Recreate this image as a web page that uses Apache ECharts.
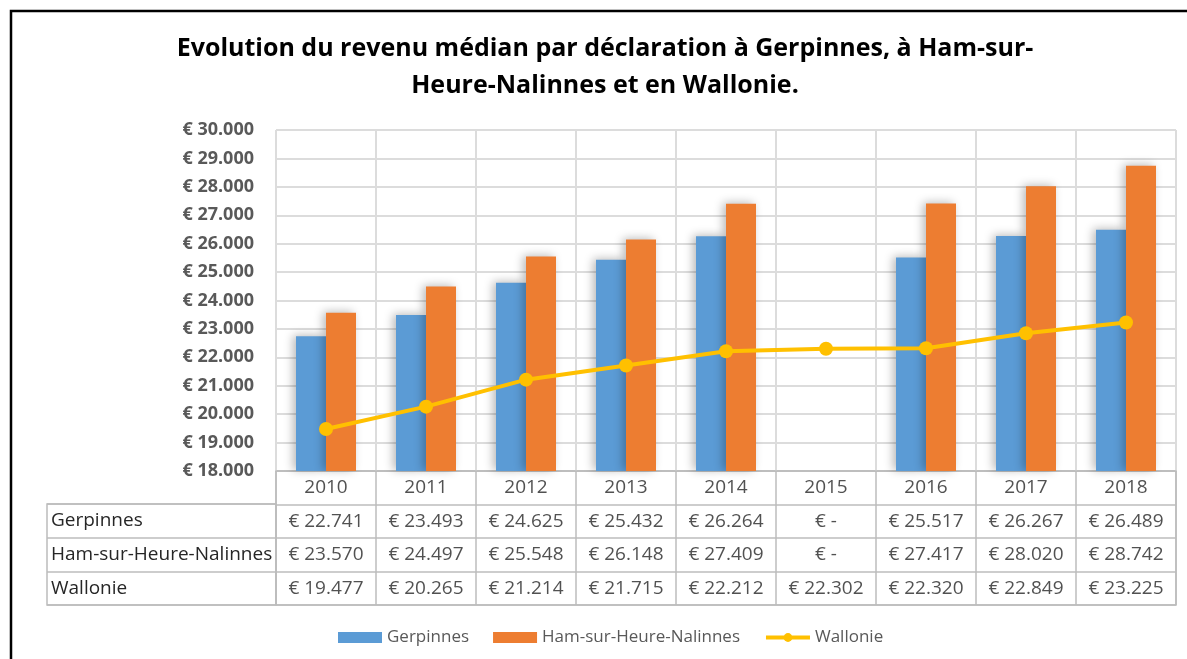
<!DOCTYPE html>
<html>
<head>
<meta charset="utf-8">
<script src="https://cdn.jsdelivr.net/npm/echarts@6/dist/echarts.min.js"></script>
<style>
  html, body { margin: 0; padding: 0; background: #fff; }
  #main { width: 1187px; height: 659px; }
</style>
</head>
<body>
<div id="main"></div>
<script>
// data
const years = ['2010', '2011', '2012', '2013', '2014', '2015', '2016', '2017', '2018'];
const gerpinnes = [22741, 23493, 24625, 25432, 26264, null, 25517, 26267, 26489];
const hamSurHeure = [23570, 24497, 25548, 26148, 27409, null, 27417, 28020, 28742];
const wallonie = [19477, 20265, 21214, 21715, 22212, 22302, 22320, 22849, 23225];
const rowNames = ['Gerpinnes', 'Ham-sur-Heure-Nalinnes', 'Wallonie'];
const yMin = 18000, yMax = 30000, yStep = 1000;

const font = 'Open Sans';

function euro(v) {
  if (v == null) return '€ -';
  return '€ ' + String(v).replace(/\B(?=(\d{3})+(?!\d))/g, '.');
}

// cells of the data table: header row with the years + one row per series
const rows = [gerpinnes, hamSurHeure, wallonie];
let cells = [];
years.forEach((y) => {
  cells.push({ value: [y, 'header'], name: y });
});
rows.forEach((serie, r) => {
  serie.forEach((v, i) => {
    cells.push({ value: [years[i], rowNames[r]], name: euro(v) });
  });
});

const gridLine = { show: true, lineStyle: { color: '#dcdcdc', width: 2 } };
const tableLine = { show: true, lineStyle: { color: '#bcbcbc', width: 1.5 } };
const barShadow = {
  shadowBlur: 10,
  shadowColor: 'rgba(0,0,0,0.28)',
  shadowOffsetX: -3,
  shadowOffsetY: -1
};

let myChart = echarts.init(document.getElementById('main'));

let options = {
  animation: false,
  textStyle: { fontFamily: font },
  title: {
    text: 'Evolution du revenu médian par déclaration à Gerpinnes, à Ham-sur-\nHeure-Nalinnes et en Wallonie.',
    left: 605,
    textAlign: 'center',
    top: 30,
    padding: 0,
    textStyle: { fontFamily: font, fontSize: 25, fontWeight: 'bold', color: '#000', lineHeight: 37 }
  },
  graphic: [{
    type: 'rect',
    shape: { x: 11, y: 11, width: 1400, height: 1000 },
    style: { fill: 'none', stroke: '#000', lineWidth: 2.5 },
    silent: true
  }],
  legend: {
    left: 333,
    top: 624,
    itemGap: 24,
    itemWidth: 44,
    itemHeight: 11,
    textStyle: { fontFamily: font, fontSize: 17, color: '#595959' },
    data: [
      { name: 'Gerpinnes', icon: 'rect' },
      { name: 'Ham-sur-Heure-Nalinnes', icon: 'rect' },
      { name: 'Wallonie', lineStyle: { width: 4 } }
    ]
  },
  grid: [
    { left: 276, right: 11, top: 130, bottom: 188 },
    { left: 276, right: 11, top: 471, height: 134, show: true, borderColor: '#bcbcbc', borderWidth: 1.5 },
    { left: 47, top: 504, width: 229, height: 101, show: true, borderColor: '#bcbcbc', borderWidth: 1.5 }
  ],
  xAxis: [
    {
      type: 'category', data: years, gridIndex: 0,
      axisLine: { lineStyle: { color: '#bcbcbc', width: 1.5 } },
      axisTick: { show: false },
      axisLabel: { show: false },
      splitLine: Object.assign({ interval: 0 }, gridLine)
    },
    {
      type: 'category', data: years, gridIndex: 1,
      axisLine: { show: false }, axisTick: { show: false }, axisLabel: { show: false },
      splitLine: Object.assign({ interval: 0 }, tableLine)
    },
    { type: 'value', gridIndex: 2, show: false }
  ],
  yAxis: [
    {
      type: 'value', gridIndex: 0, min: yMin, max: yMax, interval: yStep,
      axisLine: { show: false }, axisTick: { show: false },
      axisLabel: {
        margin: 22, fontFamily: font, fontSize: 18, fontWeight: 'bold', color: '#595959',
        formatter: (v) => euro(v)
      },
      splitLine: gridLine
    },
    {
      type: 'category', gridIndex: 1, inverse: true,
      data: ['header'].concat(rowNames),
      axisLine: { show: false }, axisTick: { show: false }, axisLabel: { show: false },
      splitLine: Object.assign({ interval: 0 }, tableLine)
    },
    {
      type: 'category', gridIndex: 2, inverse: true, data: rowNames,
      axisLine: { show: false }, axisTick: { show: false },
      axisLabel: { inside: true, margin: 4, fontFamily: font, fontSize: 19, color: '#262626' },
      splitLine: Object.assign({ interval: 0 }, tableLine)
    }
  ],
  series: [
    {
      name: 'Gerpinnes', type: 'bar', data: gerpinnes,
      xAxisIndex: 0, yAxisIndex: 0,
      barGap: '0%', barCategoryGap: '40%',
      itemStyle: Object.assign({ color: '#5B9BD5' }, barShadow)
    },
    {
      name: 'Ham-sur-Heure-Nalinnes', type: 'bar', data: hamSurHeure,
      xAxisIndex: 0, yAxisIndex: 0,
      barGap: '0%', barCategoryGap: '40%',
      itemStyle: Object.assign({ color: '#ED7D31' }, barShadow)
    },
    {
      name: 'Wallonie', type: 'line', data: wallonie,
      xAxisIndex: 0, yAxisIndex: 0,
      symbol: 'circle', symbolSize: 14, z: 5,
      lineStyle: { color: '#FFC000', width: 4 },
      itemStyle: { color: '#FFC000' }
    },
    {
      type: 'scatter', data: cells, xAxisIndex: 1, yAxisIndex: 1,
      symbol: 'rect', symbolSize: 1, silent: true,
      itemStyle: { color: 'rgba(0,0,0,0)' },
      label: {
        show: true, position: 'inside', formatter: '{b}',
        fontFamily: font, fontSize: 19, color: '#262626'
      }
    }
  ]
};

myChart.setOption(options);
</script>
</body>
</html>
